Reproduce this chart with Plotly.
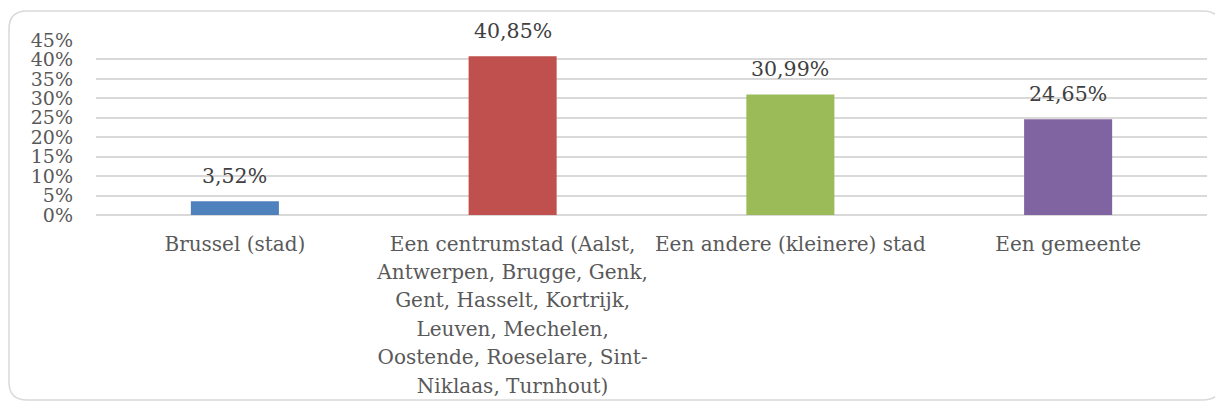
import plotly.graph_objects as go

categories = [
    "Brussel (stad)",
    "Een centrumstad (Aalst,<br>Antwerpen, Brugge, Genk,<br>Gent, Hasselt, Kortrijk,<br>Leuven, Mechelen,<br>Oostende, Roeselare, Sint-<br>Niklaas, Turnhout)",
    "Een andere (kleinere) stad",
    "Een gemeente",
]
values = [3.52, 40.85, 30.99, 24.65]
bar_colors = ["#4f81bd", "#c0504d", "#9bbb59", "#8064a2"]
y_tickvals = [0, 5, 10, 15, 20, 25, 30, 35, 40, 45]
y_ticktext = ["0%", "5%", "10%", "15%", "20%", "25%", "30%", "35%", "40%", "45%"]

FONT = "DejaVu Serif"
# the page body adds an 8px margin, so the figure is sized to fit inside it
W, H = 1215, 400
ML, MR, MT, MB = 88, 16, 32, 193

# glyphs at 20px, line pitch from a 21.8px base font (Cambria-like wide leading)
def wrap_label(label, size=20):
    return "<br>".join(f'<span style="font-size:{size}px">{part}</span>'
                       for part in label.split("<br>"))

fig = go.Figure()
fig.add_trace(go.Bar(
    x=list(range(len(categories))),
    y=values,
    marker=dict(color=bar_colors, line=dict(width=0)),
    hoverinfo="skip",
))

for i, v in enumerate(values):
    fig.add_annotation(
        x=i, y=v, xref="x", yref="y",
        text=f"{v:.2f}%".replace(".", ","),
        showarrow=False, yanchor="bottom", yshift=11,
        font=dict(family=FONT, size=20.5, color="#404040"),
    )

# rounded border around the chart area (figure pixel -> paper coords)
pw, ph = W - ML - MR, H - MT - MB
def px(x):
    return (x - ML) / pw
def py(y):
    return (H - MB - y) / ph
x0, x1, y0, y1, r = 1, 1213, 3, 392, 18
path = (
    f"M {px(x0 + r)} {py(y0)} L {px(x1 - r)} {py(y0)} "
    f"Q {px(x1)} {py(y0)} {px(x1)} {py(y0 + r)} "
    f"L {px(x1)} {py(y1 - r)} Q {px(x1)} {py(y1)} {px(x1 - r)} {py(y1)} "
    f"L {px(x0 + r)} {py(y1)} Q {px(x0)} {py(y1)} {px(x0)} {py(y1 - r)} "
    f"L {px(x0)} {py(y0 + r)} Q {px(x0)} {py(y0)} {px(x0 + r)} {py(y0)} Z"
)
fig.add_shape(type="path", path=path, xref="paper", yref="paper",
              line=dict(color="#d9d9d9", width=1.5), layer="below")

fig.update_layout(
    width=W, height=H,
    margin=dict(l=ML, r=MR, t=MT, b=MB, pad=0, autoexpand=False),
    paper_bgcolor="white", plot_bgcolor="white",
    bargap=0.683,
    showlegend=False,
    font=dict(family=FONT, size=19, color="#595959"),
    xaxis=dict(
        tickmode="array",
        tickvals=list(range(len(categories))),
        ticktext=[wrap_label(c) for c in categories],
        range=[-0.5, len(categories) - 0.5],
        showgrid=False, zeroline=False, showline=False,
        ticks="", ticklabelstandoff=13, automargin=False,
        tickfont=dict(family=FONT, size=21.8, color="#595959"),
        fixedrange=True,
    ),
    yaxis=dict(
        range=[0, 45],
        tickmode="array",
        tickvals=y_tickvals,
        ticktext=y_ticktext,
        showgrid=True, gridcolor="#d9d9d9", gridwidth=1.5,
        zeroline=True, zerolinecolor="#d9d9d9", zerolinewidth=1.5,
        showline=False, ticks="", ticklabelstandoff=22, automargin=False,
        tickfont=dict(family=FONT, size=19, color="#595959"),
        fixedrange=True,
    ),
)

fig.write_html("out.html")
